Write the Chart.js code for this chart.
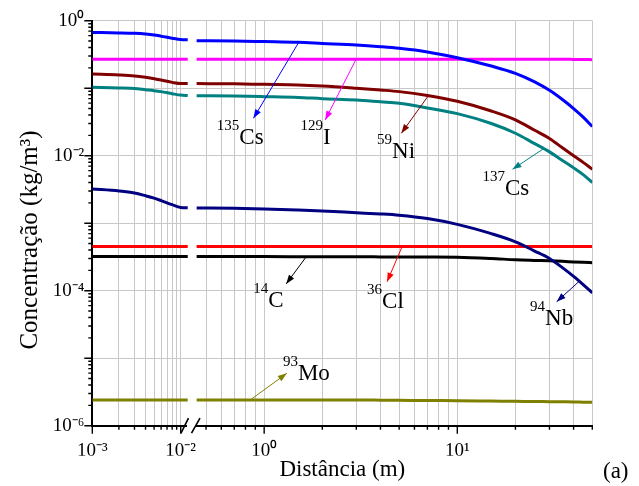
<!DOCTYPE html>
<html><head><meta charset="utf-8">
<script src="https://cdn.jsdelivr.net/npm/chart.js@4.4.0/dist/chart.umd.min.js"></script>
<style>html,body{margin:0;padding:0;background:#fff;}</style>
</head><body>
<canvas id="c" width="639" height="486"></canvas>
<script>
// ---------- data ----------
const xLeft  = [0.001, 0.002, 0.003, 0.004, 0.005, 0.006, 0.008, 0.010, 0.012];
const xRight = [0.447, 0.7, 1, 1.5, 2, 3, 4, 5, 7, 10, 15, 20, 25, 30, 35, 40, 45, 50];

const cs135Left  = [0.67, 0.66, 0.65, 0.635, 0.615, 0.59, 0.55, 0.525, 0.52];
const cs135Right = [0.505, 0.50, 0.49, 0.478, 0.46, 0.436, 0.412, 0.39, 0.345, 0.283, 0.213, 0.166, 0.125, 0.093, 0.068, 0.050, 0.037, 0.027];
const i129Left   = [0.268, 0.268, 0.268, 0.268, 0.268, 0.268, 0.268, 0.268, 0.268];
const i129Right  = [0.268, 0.268, 0.268, 0.268, 0.268, 0.268, 0.268, 0.268, 0.268, 0.268, 0.268, 0.268, 0.268, 0.268, 0.268, 0.267, 0.266, 0.265];
const ni59Left   = [0.162, 0.157, 0.152, 0.145, 0.138, 0.132, 0.122, 0.117, 0.117];
const ni59Right  = [0.117, 0.116, 0.114, 0.112, 0.108, 0.100, 0.094, 0.089, 0.078, 0.064, 0.046, 0.034, 0.024, 0.018, 0.0131, 0.0100, 0.0079, 0.0063];
const cs137Left  = [0.103, 0.101, 0.099, 0.095, 0.092, 0.089, 0.083, 0.079, 0.078];
const cs137Right = [0.0775, 0.0765, 0.075, 0.073, 0.070, 0.067, 0.063, 0.060, 0.051, 0.042, 0.030, 0.0215, 0.0152, 0.0114, 0.0085, 0.0066, 0.0052, 0.0040];
const nb94Left   = [0.00321, 0.00300, 0.00280, 0.00255, 0.00235, 0.00216, 0.00188, 0.00171, 0.00169];
const nb94Right  = [0.00168, 0.00166, 0.00163, 0.00157, 0.00152, 0.00143, 0.00137, 0.00131, 0.00117, 0.00096, 0.00070, 0.00053, 0.00039, 0.00030, 0.00022, 0.000163, 0.000122, 0.000093];
const cl36Left   = [0.00045, 0.00045, 0.00045, 0.00045, 0.00045, 0.00045, 0.00045, 0.00045, 0.00045];
const cl36Right  = [0.00045, 0.00045, 0.00045, 0.00045, 0.00045, 0.00045, 0.00045, 0.00045, 0.00045, 0.00045, 0.00045, 0.00045, 0.00045, 0.00045, 0.00045, 0.00045, 0.00045, 0.00045];
const c14Left    = [0.00032, 0.00032, 0.00032, 0.00032, 0.00032, 0.00032, 0.00032, 0.00032, 0.00032];
const c14Right   = [0.00032, 0.00032, 0.00032, 0.000319, 0.000318, 0.000318, 0.000317, 0.000316, 0.000315, 0.000313, 0.000300, 0.000287, 0.000281, 0.000277, 0.000272, 0.000267, 0.000263, 0.00026];
const mo93Left   = [2.4e-6, 2.4e-6, 2.4e-6, 2.4e-6, 2.4e-6, 2.4e-6, 2.4e-6, 2.4e-6, 2.4e-6];
const mo93Right  = [2.4e-6, 2.4e-6, 2.4e-6, 2.4e-6, 2.4e-6, 2.4e-6, 2.39e-6, 2.38e-6, 2.36e-6, 2.35e-6, 2.32e-6, 2.30e-6, 2.28e-6, 2.27e-6, 2.26e-6, 2.25e-6, 2.23e-6, 2.22e-6];

const seriesNames  = ['135Cs', '129I', '59Ni', '137Cs', '94Nb', '36Cl', '14C', '93Mo'];
const seriesLeft   = [cs135Left, i129Left, ni59Left, cs137Left, nb94Left, cl36Left, c14Left, mo93Left];
const seriesRight  = [cs135Right, i129Right, ni59Right, cs137Right, nb94Right, cl36Right, c14Right, mo93Right];
const seriesColors = ['#0000FF', '#FF00FF', '#800000', '#008080', '#000080', '#FF0000', '#000000', '#808000'];

// tick values (two x segments of a broken axis, and y)
const xLeftTicks  = [0.001, 0.002, 0.003, 0.004, 0.005, 0.006, 0.007, 0.008, 0.009, 0.01];
const xRightTicks = [0.5, 0.6, 0.7, 0.8, 0.9, 1, 2, 3, 4, 5, 6, 7, 8, 9, 10, 20, 30, 40, 50];
const xTickLabels = {'-3': '10⁻³', '-2': '10⁻²', '0': '10⁰', '1': '10¹'};
const yTicks = [];
for (let e = -6; e <= -1; e++) for (let m = 1; m <= 9; m++) yTicks.push(m * Math.pow(10, e));
yTicks.push(1);
const yTickLabels = {'0': '10⁰', '-2': '10⁻²', '-4': '10⁻⁴', '-6': '10⁻⁶'};

const xTitle = 'Distância (m)';
const yTitle = 'Concentração (kg/m³)';

// annotations (nuclide labels with arrows), in data coordinates of the right segment
const annSup   = ['135', '129', '59', '137', '14', '36', '94', '93'];
const annMain  = ['Cs', 'I', 'Ni', 'Cs', 'C', 'Cl', 'Nb', 'Mo'];
const annColor = ['#0000FF', '#FF00FF', '#800000', '#008080', '#000000', '#FF0000', '#000080', '#808000'];
const annTail  = [[1.51, 0.478], [2.99, 0.268], [7.12, 0.079], [28.1, 0.0128], [1.65, 0.000317], [5.18, 0.00045], [42.8, 0.000138], [0.846, 2.4e-6]];
const annHead  = [[0.88, 0.0358], [2.07, 0.0338], [5.13, 0.0215], [19.3, 0.00629], [1.3, 0.000126], [4.33, 0.000136], [32.7, 6.87e-5], [1.31, 5.97e-6]];
const annText  = [[0.569, 0.0149], [1.54, 0.0149], [3.84, 0.00915], [13.5, 0.00262], [0.877, 5.74e-5], [3.41, 5.48e-5], [23.8, 3.1e-5], [1.25, 4.75e-6]];

// ---------- chart ----------
const FONT = "'Liberation Serif', 'Times New Roman', serif";
const isDecade = v => Math.abs(Math.log10(v) - Math.round(Math.log10(v))) < 1e-6;
const expOf = v => String(Math.round(Math.log10(v)));

const datasets = [];
seriesNames.forEach((name, i) => {
  const common = {borderColor: seriesColors[i], backgroundColor: seriesColors[i], borderWidth: 3,
    pointRadius: 0, fill: false, cubicInterpolationMode: 'monotone'};
  datasets.push(Object.assign({label: name, xAxisID: 'xL', yAxisID: 'y',
    data: xLeft.map((x, k) => ({x: x, y: seriesLeft[i][k]}))}, common));
  datasets.push(Object.assign({label: name + ' ', xAxisID: 'xR', yAxisID: 'y',
    data: xRight.map((x, k) => ({x: x, y: seriesRight[i][k]}))}, common));
});

const GRID = '#c8c8c8';
function xAxis(min, max, ticksList, weight) {
  return {
    type: 'logarithmic', position: 'bottom', stack: 'xs', stackWeight: weight,
    min: min, max: max,
    afterBuildTicks: s => { s.ticks = ticksList.map(v => ({value: v})); },
    afterFit: s => { s.height = 30; },
    grid: {color: GRID, lineWidth: 1, drawTicks: true, tickLength: 8, tickColor: 'rgba(0,0,0,0)'},
    border: {color: '#000', width: 2},
    ticks: {autoSkip: false, maxRotation: 0, minRotation: 0, padding: 6, color: '#000',
      font: {family: FONT, size: 19},
      callback: v => (isDecade(v) && xTickLabels[expOf(v)]) ? xTickLabels[expOf(v)] : ''}
  };
}

const decor = {
  id: 'decor',
  afterDraw(chart) {
    const ctx = chart.ctx;
    const y = chart.scales.y, xL = chart.scales.xL, xR = chart.scales.xR;
    ctx.save();
    ctx.strokeStyle = '#000';
    ctx.lineWidth = 1.4;
    // tick marks (major longer than minor)
    ctx.beginPath();
    y.ticks.forEach(t => {
      const py = y.getPixelForValue(t.value);
      const len = isDecade(t.value) ? 8 : 4;
      ctx.moveTo(y.right - len, py); ctx.lineTo(y.right, py);
    });
    [xL, xR].forEach(s => s.ticks.forEach(t => {
      const px = s.getPixelForValue(t.value);
      const len = isDecade(t.value) ? 8 : 4;
      ctx.moveTo(px, s.top); ctx.lineTo(px, s.top + len);
    }));
    ctx.stroke();
    // axis break
    const by = xL.top;
    const bx = xL.right;
    ctx.fillStyle = '#fff';
    ctx.fillRect(bx - 4, by - 3, 9, 6);
    ctx.lineWidth = 1.6;
    ctx.beginPath();
    ctx.moveTo(bx - 10, by + 7.5); ctx.lineTo(bx - 2.5, by - 7.5);
    ctx.moveTo(bx + 0.5, by + 7.5); ctx.lineTo(bx + 9, by - 7.5);
    ctx.stroke();
    // y axis title
    ctx.save();
    ctx.fillStyle = '#000';
    ctx.font = '25px ' + FONT;
    ctx.translate(30, 240);
    ctx.rotate(-Math.PI / 2);
    ctx.textAlign = 'center'; ctx.textBaseline = 'middle';
    ctx.fillText(yTitle, 0, 0);
    ctx.restore();
    // annotations
    annSup.forEach((sup, i) => {
      const tx = xR.getPixelForValue(annTail[i][0]), ty = y.getPixelForValue(annTail[i][1]);
      const hx = xR.getPixelForValue(annHead[i][0]), hy = y.getPixelForValue(annHead[i][1]);
      ctx.strokeStyle = annColor[i]; ctx.fillStyle = annColor[i]; ctx.lineWidth = 1;
      ctx.beginPath(); ctx.moveTo(tx, ty); ctx.lineTo(hx, hy); ctx.stroke();
      const a = Math.atan2(hy - ty, hx - tx), L = 9, W = 3.2;
      ctx.beginPath();
      ctx.moveTo(hx, hy);
      ctx.lineTo(hx - L * Math.cos(a) + W * Math.sin(a), hy - L * Math.sin(a) - W * Math.cos(a));
      ctx.lineTo(hx - L * Math.cos(a) - W * Math.sin(a), hy - L * Math.sin(a) + W * Math.cos(a));
      ctx.closePath(); ctx.fill();
      const lx = xR.getPixelForValue(annText[i][0]), ly = y.getPixelForValue(annText[i][1]);
      ctx.fillStyle = '#000';
      ctx.textBaseline = 'alphabetic'; ctx.textAlign = 'left';
      ctx.font = '15px ' + FONT;
      ctx.fillText(sup, lx, ly - 14);
      const w = ctx.measureText(sup).width;
      ctx.font = '23px ' + FONT;
      ctx.fillText(annMain[i], lx + w, ly);
    });
    // panel letter
    ctx.fillStyle = '#000';
    ctx.font = '23px ' + FONT;
    ctx.textAlign = 'left'; ctx.textBaseline = 'alphabetic';
    ctx.fillText('(a)', 603, 478);
    ctx.restore();
  }
};

new Chart(document.getElementById('c'), {
  type: 'line',
  data: {datasets: datasets},
  plugins: [decor],
  options: {
    responsive: false, animation: false, parsing: true,
    layout: {padding: {left: 0, right: 46.7, top: 20.7, bottom: 0}},
    plugins: {
      legend: {display: false}, tooltip: {enabled: false},
      title: {display: true, text: xTitle, position: 'bottom', fullSize: false,
        color: '#000', font: {family: FONT, size: 23, weight: 'normal'}, padding: {top: 0, bottom: 2.7}}
    },
    scales: {
      xL: xAxis(0.001, 0.01307, xLeftTicks, 98.7),
      xR: xAxis(0.418, 50, xRightTicks, 401.3),
      y: {
        type: 'logarithmic', position: 'left', min: 1e-6, max: 1,
        afterBuildTicks: s => { s.ticks = yTicks.map(v => ({value: v})); },
        afterFit: s => { s.width = 92.3; },
        grid: {color: c => (c.tick && isDecade(c.tick.value)) ? GRID : 'rgba(0,0,0,0)', lineWidth: 1,
          drawTicks: true, tickLength: 8, tickColor: 'rgba(0,0,0,0)'},
        border: {color: '#000', width: 2},
        ticks: {autoSkip: false, padding: 0, color: '#000', font: {family: FONT, size: 19},
          callback: v => (isDecade(v) && yTickLabels[expOf(v)]) ? yTickLabels[expOf(v)] : ''},
        title: {display: false, text: yTitle}
      }
    }
  }
});
</script>
</body></html>
